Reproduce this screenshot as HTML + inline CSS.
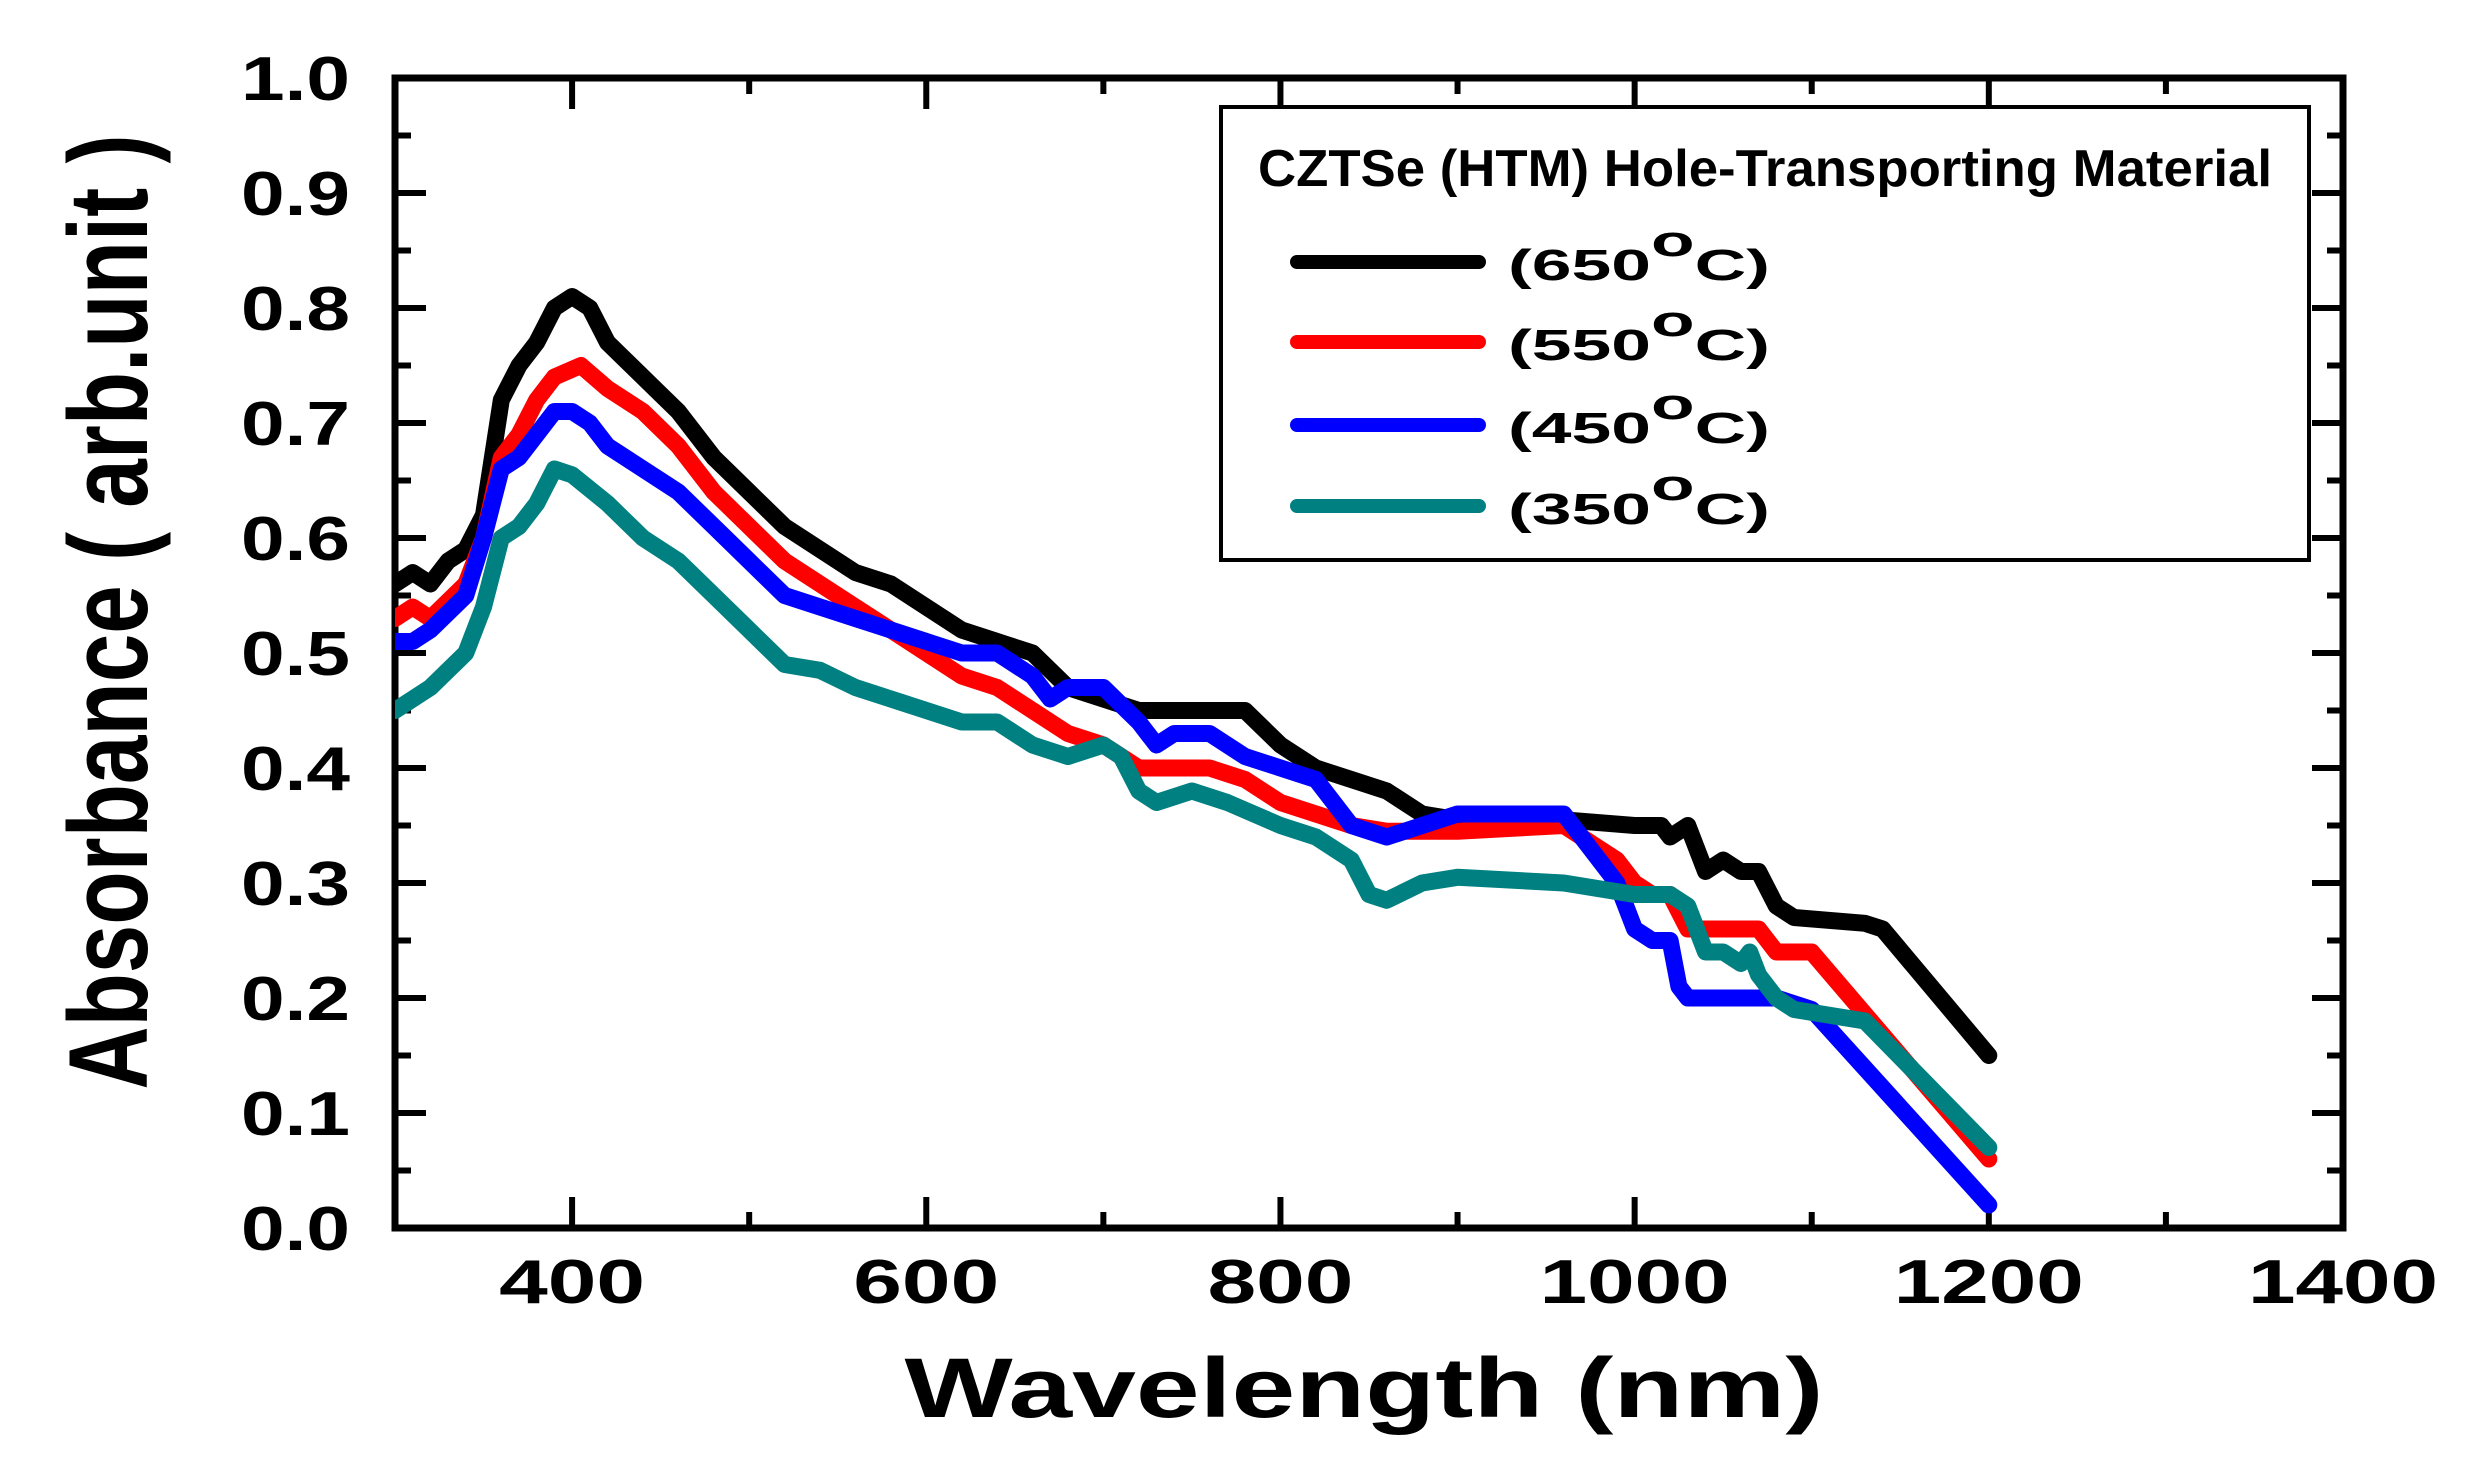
<!DOCTYPE html>
<html><head><meta charset="utf-8"><style>html,body{margin:0;padding:0;background:#fff}svg{display:block}</style></head>
<body>
<svg id="s" width="2482" height="1473" viewBox="0 0 2482 1473" xmlns="http://www.w3.org/2000/svg" font-family="Liberation Sans, Arial, sans-serif" font-weight="bold">
<defs><clipPath id="c"><rect x="395" y="78" width="1948" height="1150"/></clipPath></defs>
<g id="ticks" stroke="#000" stroke-width="6"></g>
<rect x="395" y="78" width="1948" height="1150" fill="none" stroke="#000" stroke-width="7"/>
<g id="lab" font-size="62"></g>
<text x="1364" y="1417" font-size="84" text-anchor="middle" textLength="919" lengthAdjust="spacingAndGlyphs">Wavelength (nm)</text>
<text transform="translate(147,612) rotate(-90)" font-size="112" text-anchor="middle" textLength="955" lengthAdjust="spacingAndGlyphs">Absorbance ( arb.unit )</text>
<g id="curves" clip-path="url(#c)" fill="none" stroke-width="17" stroke-linejoin="round" stroke-linecap="round"></g>
<rect x="1221" y="107" width="1088" height="453" fill="#fff" stroke="#000" stroke-width="4"/>
<text x="1258" y="186" font-size="52" textLength="1014" lengthAdjust="spacingAndGlyphs">CZTSe (HTM) Hole-Transporting Material</text>
<g stroke-width="14" stroke-linecap="round">
<line x1="1297" y1="262" x2="1479" y2="262" stroke="#000"/>
<line x1="1297" y1="342" x2="1479" y2="342" stroke="#f00"/>
<line x1="1297" y1="425" x2="1479" y2="425" stroke="#00f"/>
<line x1="1297" y1="506" x2="1479" y2="506" stroke="#008080"/>
</g>
<g font-size="44">
<text x="1508" y="280" textLength="262" lengthAdjust="spacingAndGlyphs">(650<tspan dy="-24">o</tspan><tspan dy="24">C)</tspan></text>
<text x="1508" y="360" textLength="262" lengthAdjust="spacingAndGlyphs">(550<tspan dy="-24">o</tspan><tspan dy="24">C)</tspan></text>
<text x="1508" y="443" textLength="262" lengthAdjust="spacingAndGlyphs">(450<tspan dy="-24">o</tspan><tspan dy="24">C)</tspan></text>
<text x="1508" y="524" textLength="262" lengthAdjust="spacingAndGlyphs">(350<tspan dy="-24">o</tspan><tspan dy="24">C)</tspan></text>
</g>
</svg>
<script>
var NS="http://www.w3.org/2000/svg";
function X(w){return 395+(w-300)*1948/1100;}
function Y(a){return 1228-a*1150;}
function el(t,a,p){var e=document.createElementNS(NS,t);for(var k in a)e.setAttribute(k,a[k]);p.appendChild(e);return e;}
var tk=document.getElementById('ticks'),lab=document.getElementById('lab');
for(var w=400;w<=1400;w+=100){var L=(w%200==0)?31:16;var x=X(w);
el('line',{x1:x,y1:1228,x2:x,y2:1228-L},tk);el('line',{x1:x,y1:78,x2:x,y2:78+L},tk);
if(w%200==0){var t=el('text',{x:x,y:1303,'text-anchor':'middle',textLength:(w>=1000?190:146),lengthAdjust:'spacingAndGlyphs'},lab);t.textContent=w;}}
for(var i=0;i<=20;i++){var a=i*0.05,y=Y(a),L=(i%2==0)?31:16;
el('line',{x1:395,y1:y,x2:395+L,y2:y},tk);el('line',{x1:2343,y1:y,x2:2343-L,y2:y},tk);
if(i%2==0){var t=el('text',{x:350,y:y+22,'text-anchor':'end',textLength:109,lengthAdjust:'spacingAndGlyphs'},lab);t.textContent=(a).toFixed(1);}}
var data={
"#000":[[300,0.56],[310,0.57],[320,0.56],[330,0.58],[340,0.59],[350,0.62],[360,0.72],[370,0.75],[380,0.77],[390,0.80],[400,0.81],[410,0.80],[420,0.77],[440,0.74],[460,0.71],[480,0.67],[500,0.64],[520,0.61],[540,0.59],[560,0.57],[580,0.56],[600,0.54],[620,0.52],[640,0.51],[660,0.50],[680,0.47],[700,0.46],[720,0.45],[780,0.45],[800,0.42],[820,0.40],[840,0.39],[860,0.38],[880,0.36],[900,0.355],[960,0.355],[1000,0.35],[1015,0.35],[1020,0.34],[1030,0.35],[1040,0.31],[1050,0.32],[1060,0.31],[1070,0.31],[1080,0.28],[1090,0.27],[1130,0.265],[1140,0.26],[1200,0.15]],
"#f00":[[300,0.53],[310,0.54],[320,0.53],[340,0.56],[350,0.60],[360,0.67],[370,0.69],[380,0.72],[390,0.74],[405,0.75],[420,0.73],[440,0.71],[460,0.68],[480,0.64],[500,0.61],[520,0.58],[540,0.56],[560,0.54],[580,0.52],[600,0.50],[620,0.48],[640,0.47],[660,0.45],[680,0.43],[700,0.42],[720,0.40],[740,0.40],[760,0.40],[780,0.39],[800,0.37],[820,0.36],[840,0.35],[860,0.345],[900,0.345],[960,0.35],[980,0.33],[990,0.32],[1000,0.30],[1010,0.29],[1020,0.29],[1030,0.26],[1070,0.26],[1080,0.24],[1100,0.24],[1200,0.06]],
"#00f":[[300,0.51],[310,0.51],[320,0.52],[340,0.55],[350,0.60],[360,0.66],[370,0.67],[380,0.69],[390,0.71],[400,0.71],[410,0.70],[420,0.68],[440,0.66],[460,0.64],[480,0.61],[500,0.58],[520,0.55],[540,0.54],[560,0.53],[580,0.52],[600,0.51],[620,0.50],[640,0.50],[660,0.48],[670,0.46],[680,0.47],[700,0.47],[720,0.44],[730,0.42],[740,0.43],[760,0.43],[780,0.41],[800,0.40],[820,0.39],[840,0.35],[860,0.34],[880,0.35],[900,0.36],[960,0.36],[970,0.34],[980,0.32],[990,0.30],[1000,0.26],[1010,0.25],[1020,0.25],[1025,0.21],[1030,0.20],[1080,0.20],[1100,0.19],[1200,0.02]],
"#008080":[[300,0.45],[320,0.47],[340,0.50],[350,0.54],[360,0.60],[370,0.61],[380,0.63],[390,0.66],[400,0.655],[420,0.63],[440,0.60],[460,0.58],[480,0.55],[500,0.52],[520,0.49],[540,0.485],[560,0.47],[580,0.46],[600,0.45],[620,0.44],[640,0.44],[660,0.42],[680,0.41],[700,0.42],[710,0.41],[720,0.38],[730,0.37],[750,0.38],[770,0.37],[800,0.35],[820,0.34],[840,0.32],[850,0.29],[860,0.285],[880,0.30],[900,0.305],[960,0.30],[1000,0.29],[1020,0.29],[1030,0.28],[1040,0.24],[1050,0.24],[1060,0.23],[1065,0.24],[1070,0.22],[1080,0.20],[1090,0.19],[1130,0.18],[1200,0.07]]};
var cg=document.getElementById('curves');
for(var c in data){el('polyline',{stroke:c,points:data[c].map(function(p){return X(p[0]).toFixed(1)+','+Y(p[1]).toFixed(1)}).join(' ')},cg);}
</script>
</body></html>
